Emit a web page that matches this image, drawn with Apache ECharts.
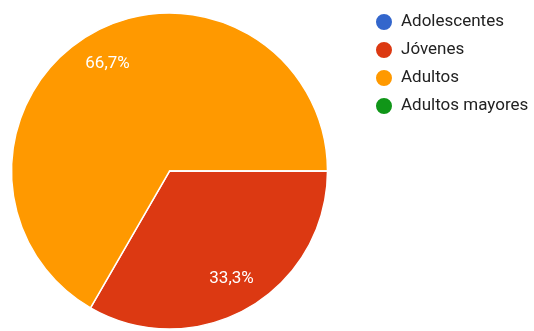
<!DOCTYPE html>
<html>
<head>
<meta charset="utf-8">
<script src="https://cdn.jsdelivr.net/npm/echarts@6/dist/echarts.min.js"></script>
<style>
  html, body { margin: 0; padding: 0; background: #fff; }
  #chart { width: 534px; height: 331px; }
</style>
</head>
<body>
<div id="chart"></div>
<script>
// Age groups and response counts
const categories = ['Adolescentes', 'Jóvenes', 'Adultos', 'Adultos mayores'];
const counts = [0, 1, 2, 0];
const colors = ['#3366cc', '#dc3912', '#ff9900', '#109618'];

const total = counts.reduce((a, b) => a + b, 0);
const pieData = categories.map((name, i) => ({ name, value: counts[i] }));

function pctLabel(p) {
  if (!p.value) return '';
  return (p.value / total * 100).toFixed(1).replace('.', ',') + '%';
}

const chart = echarts.init(document.getElementById('chart'), null, { renderer: 'canvas' });
chart.setOption({
  animation: false,
  color: colors,
  legend: {
    orient: 'vertical',
    left: 374,
    top: 12,
    padding: 0,
    icon: 'circle',
    itemWidth: 18,
    itemHeight: 18,
    itemGap: 8,
    data: categories,
    selectedMode: false,
    textStyle: {
      fontFamily: 'Roboto',
      fontSize: 17,
      lineHeight: 18,
      color: '#222',
      padding: [0, 0, 0, 3]
    }
  },
  series: [
    {
      type: 'pie',
      center: [169.5, 171],
      radius: [0, 158],
      startAngle: 0,
      clockwise: true,
      silent: true,
      data: pieData,
      label: { show: false },
      labelLine: { show: false },
      itemStyle: { borderColor: '#fff', borderWidth: 1.5 }
    },
    {
      // label ring: places the percentages at ~3/4 of the radius
      type: 'pie',
      center: [169.5, 171],
      radius: [84, 158],
      startAngle: 0,
      clockwise: true,
      silent: true,
      data: pieData,
      itemStyle: { color: 'transparent' },
      label: {
        show: true,
        position: 'inside',
        formatter: pctLabel,
        color: '#fff',
        fontFamily: 'Roboto',
        fontSize: 17
      },
      labelLine: { show: false }
    }
  ]
});
</script>
</body>
</html>
